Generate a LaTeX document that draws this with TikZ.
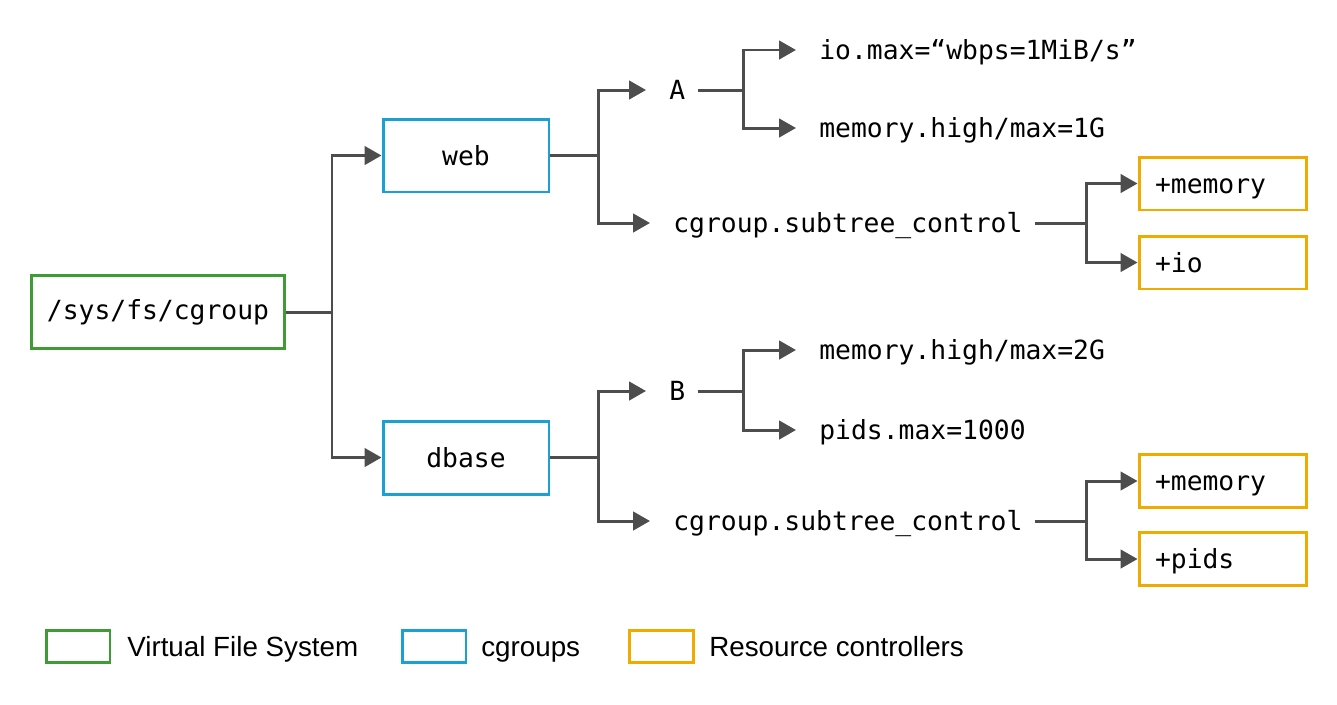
\documentclass[tikz,border=0pt]{standalone}
\usepackage{fontspec}
\setmainfont{Liberation Sans}
\setmonofont{DejaVu Sans Mono}
\usetikzlibrary{arrows.meta}

\definecolor{vfsgreen}{RGB}{63,156,53}
\definecolor{cgblue}{RGB}{27,160,212}
\definecolor{ctlorange}{RGB}{240,171,0}
\definecolor{wire}{RGB}{77,77,77}

\begin{document}
\begin{tikzpicture}[x=0.02cm, y=-0.02cm,
    font=\ttfamily\fontsize{15}{18}\selectfont,
    box/.style={draw, line width=1.7pt, minimum height=1.46cm, inner sep=0pt},
    ctlbox/.style={draw=ctlorange, line width=1.7pt, minimum height=1.06cm,
                   text width=2.70cm, inner xsep=0.32cm, align=left,
                   text height=0.38cm, text depth=0pt},
    leaf/.style={anchor=west, inner sep=0pt, text height=0.38cm, text depth=0pt},
    link/.style={wire, line width=1.7pt},
    feed/.style={link, -{Triangle[length=0.34cm, width=0.37cm]}},
    tofeed/.style={feed, shorten >=0.46cm},
    fromtext/.style={shorten <=0.24cm},
    key/.style={draw, line width=1.7pt, minimum width=1.28cm, minimum height=0.64cm, inner sep=0pt},
    keytext/.style={anchor=west, inner sep=0pt, text height=0.40cm, text depth=0pt,
                    font=\rmfamily\fontsize{15.8}{19}\selectfont}]

    \useasboundingbox (0,0) rectangle (1337,704);

    % --- Root and cgroups ---
    \node[box, draw=vfsgreen, minimum width=5.08cm] (root) at (158,312) {/sys/fs/cgroup};
    \node[box, draw=cgblue, minimum width=3.32cm] (web) at (466,155.5) {web};
    \node[box, draw=cgblue, minimum width=3.32cm] (dbase) at (466,457.5) {dbase};

    \coordinate (rootfork) at (332,312);
    \draw[link] (root.east) -- (rootfork);
    \draw[feed] (rootfork) |- (web.west);
    \draw[feed] (rootfork) |- (dbase.west);

    % --- web branch ---
    \node[leaf] (A) at (669,90) {A};
    \node[leaf] (webctl) at (673,223) {cgroup.subtree\_control};
    \coordinate (webfork) at (598,155.5);
    \draw[link] (web.east) -- (webfork);
    \draw[tofeed] (webfork) |- (A.west);
    \draw[tofeed] (webfork) |- (webctl.west);

    \node[leaf] (aio) at (819,50) {io.max=“wbps=1MiB/s”};
    \node[leaf] (amem) at (819,128) {memory.high/max=1G};
    \coordinate (afork) at (743,90);
    \draw[link, fromtext] (A.east) -- (afork);
    \draw[tofeed] (afork) |- (aio.west);
    \draw[tofeed] (afork) |- (amem.west);

    \node[ctlbox] (webmem) at (1222.5,183.5) {+memory};
    \node[ctlbox] (webio) at (1222.5,262.5) {+io};
    \coordinate (webctlfork) at (1086,223);
    \draw[link, fromtext] (webctl.east) -- (webctlfork);
    \draw[feed] (webctlfork) |- (webmem.west);
    \draw[feed] (webctlfork) |- (webio.west);

    % --- dbase branch ---
    \node[leaf] (B) at (669,391) {B};
    \node[leaf] (dbctl) at (673,521) {cgroup.subtree\_control};
    \coordinate (dbfork) at (598,457.5);
    \draw[link] (dbase.east) -- (dbfork);
    \draw[tofeed] (dbfork) |- (B.west);
    \draw[tofeed] (dbfork) |- (dbctl.west);

    \node[leaf] (bmem) at (819,350) {memory.high/max=2G};
    \node[leaf] (bpids) at (819,430) {pids.max=1000};
    \coordinate (bfork) at (743,391);
    \draw[link, fromtext] (B.east) -- (bfork);
    \draw[tofeed] (bfork) |- (bmem.west);
    \draw[tofeed] (bfork) |- (bpids.west);

    \node[ctlbox] (dbmem) at (1222.5,481) {+memory};
    \node[ctlbox] (dbpids) at (1222.5,559) {+pids};
    \coordinate (dbctlfork) at (1086,521);
    \draw[link, fromtext] (dbctl.east) -- (dbctlfork);
    \draw[feed] (dbctlfork) |- (dbmem.west);
    \draw[feed] (dbctlfork) |- (dbpids.west);

    % --- Legend ---
    \node[key, draw=vfsgreen] (keyvfs) at (78,646) {};
    \node[keytext] (keyvfstext) at (127,646) {Virtual File System};
    \node[key, draw=cgblue] (keycg) at (434,646) {};
    \node[keytext] (keycgtext) at (481,646) {cgroups};
    \node[key, draw=ctlorange] (keyctl) at (661,646) {};
    \node[keytext] (keyctltext) at (709,646) {Resource controllers};
\end{tikzpicture}
\end{document}
